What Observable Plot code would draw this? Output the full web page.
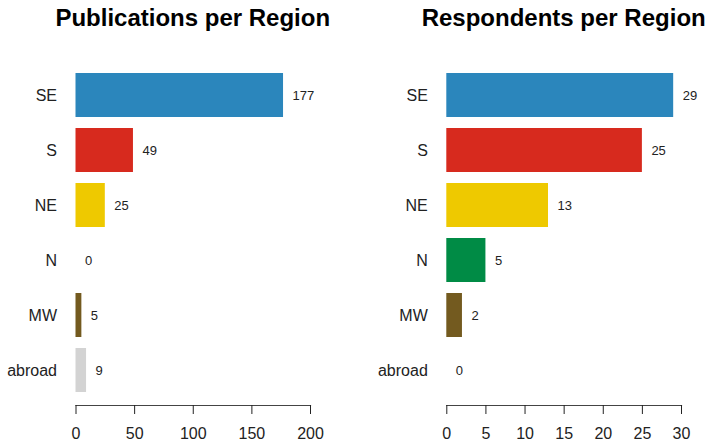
<!DOCTYPE html>
<html>
<head>
<meta charset="utf-8">
<script src="https://cdn.jsdelivr.net/npm/d3@7"></script>
<script src="https://cdn.jsdelivr.net/npm/@observablehq/plot@0.6"></script>
<style>
  html, body { margin: 0; padding: 0; background: #fff; }
  #wrap { position: relative; width: 707px; height: 445px; overflow: hidden; font-family: "Liberation Sans", Arial, sans-serif; }
  .title { position: absolute; top: 6px; font-size: 24px; line-height: 24px; font-weight: bold; color: #000; text-align: center; white-space: nowrap; }
  .panel { position: absolute; top: 50px; }
</style>
</head>
<body>
<div id="wrap">
  <div class="title" id="t1"></div>
  <div class="title" id="t2"></div>
  <div class="panel" id="p1"></div>
  <div class="panel" id="p2"></div>
</div>
<script>
const regions = ["SE", "S", "NE", "N", "MW", "abroad"];
const regionColors = ["#2B86BC", "#D72A1E", "#EEC900", "#008B45", "#735A1F", "#D3D3D3"];
const publications = [177, 49, 25, 0, 5, 9];
const respondents = [29, 25, 13, 5, 2, 0];
const pubTicks = [0, 50, 100, 150, 200];
const respTicks = [0, 5, 10, 15, 20, 25, 30];
const titles = ["Publications per Region", "Respondents per Region"];

function panel(values, domain, ticks, width, marginLeft, marginRight) {
  const data = regions.map((r, i) => ({region: r, value: values[i], color: regionColors[i]}));
  return Plot.plot({
    width, height: 395,
    marginLeft, marginRight, marginTop: 0, marginBottom: 40,
    style: {fontFamily: "'Liberation Sans', Arial, sans-serif", background: "transparent"},
    x: {domain, ticks, label: null},
    y: {domain: regions, range: [16.5, 348.3], paddingInner: 0.2, paddingOuter: 0.1, label: null},
    marks: [
      Plot.barX(data, {x: "value", y: "region", fill: "color"}),
      Plot.text(data, {x: "value", y: "region", text: d => String(d.value), dx: 9, textAnchor: "start", fontSize: 13, fill: "#222"}),
      Plot.frame({anchor: "bottom", stroke: "#444", strokeWidth: 1.2}),
      Plot.axisX({ticks, tickSize: 9, tickPadding: 13, fontSize: 16, stroke: "#222", fill: "#222", label: null}),
      Plot.axisY({tickSize: 0, tickPadding: 19, fontSize: 16, fill: "#222", label: null})
    ]
  });
}

const p1 = panel(publications, [0, 200], pubTicks, 353, 75.5, 43);
const p2 = panel(respondents, [0, 30], respTicks, 354, 93.3, 26);
const e1 = document.getElementById("p1"); e1.style.left = "0px"; e1.appendChild(p1);
const e2 = document.getElementById("p2"); e2.style.left = "353px"; e2.appendChild(p2);
const t1 = document.getElementById("t1"); t1.textContent = titles[0]; t1.style.left = (192.75 - 200) + "px"; t1.style.width = "400px";
const t2 = document.getElementById("t2"); t2.textContent = titles[1]; t2.style.left = (563.7 - 200) + "px"; t2.style.width = "400px";
</script>
</body>
</html>
